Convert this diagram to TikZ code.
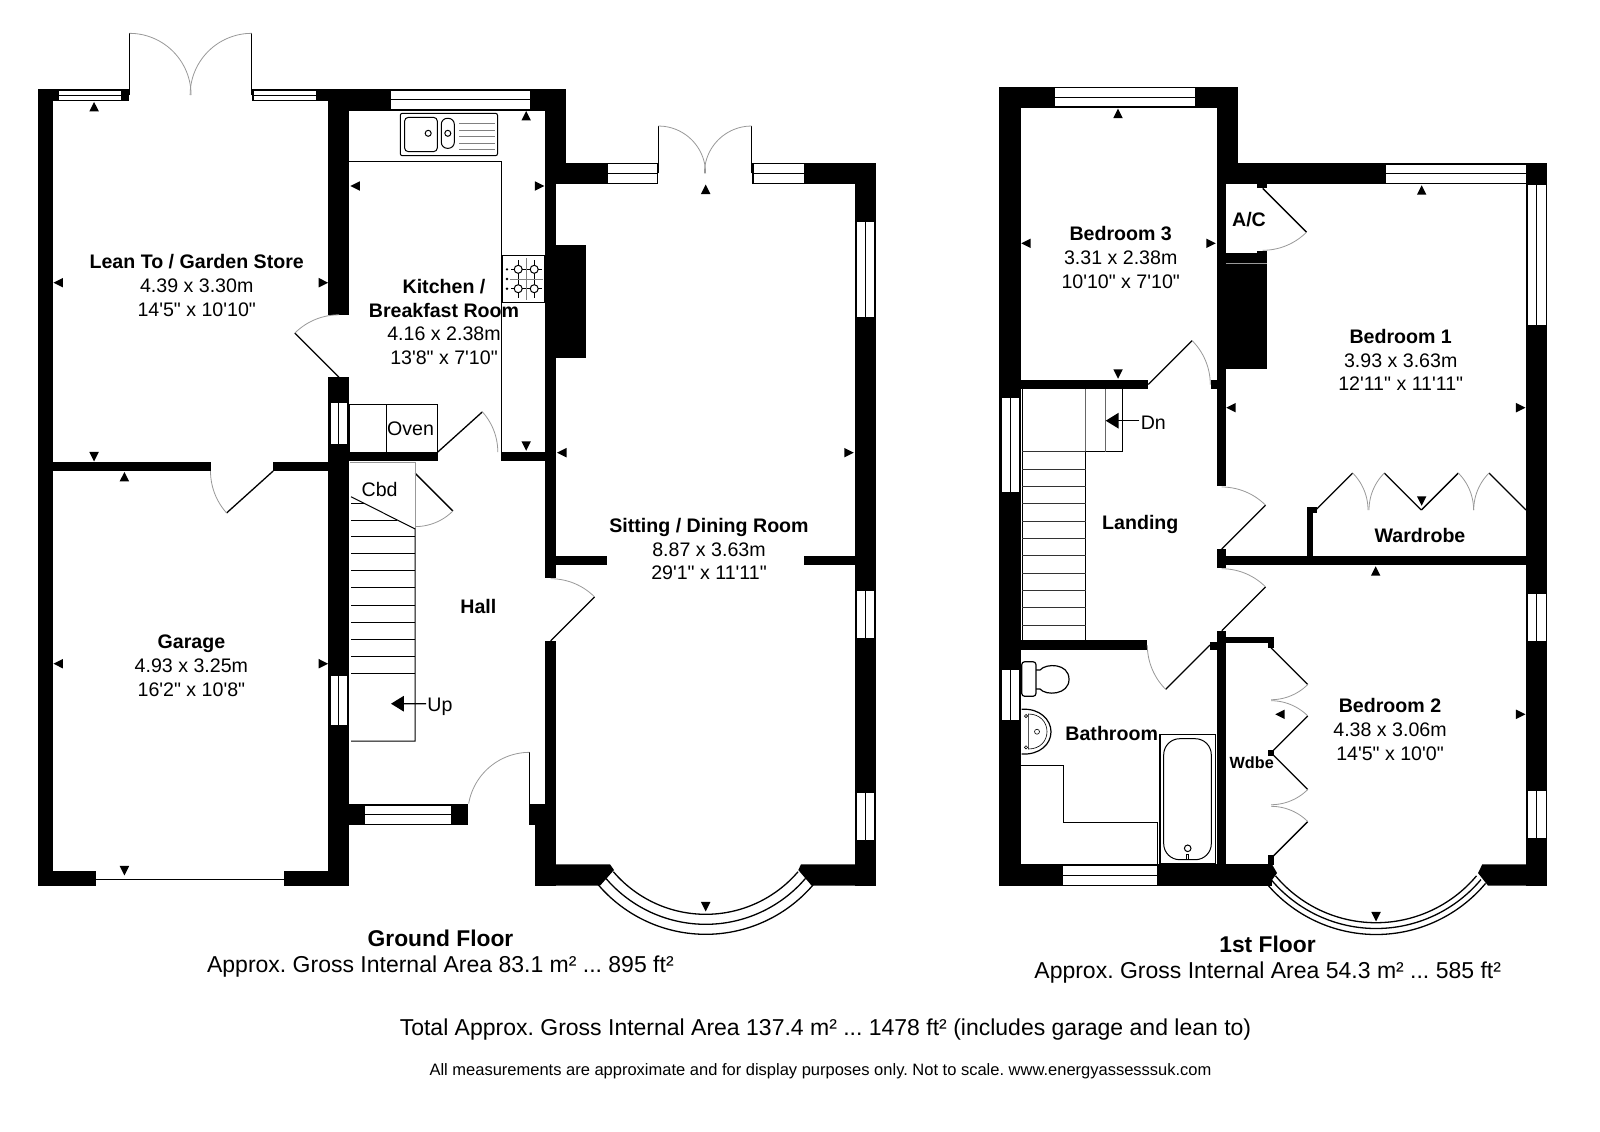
\documentclass[tikz,border=0pt]{standalone}
\usepackage{fontspec}
\usepackage{tikz}
\usetikzlibrary{arrows.meta}
\newfontfamily\plansans{Liberation Sans}
\begin{document}
\begin{tikzpicture}[x=0.5pt,y=-0.5pt]
\tikzstyle{every node}=[inner sep=0pt,align=center,font=\plansans\frenchspacing\fontsize{9.8}{11.9}\selectfont];
\tikzstyle{wall}=[fill=black];
\tikzstyle{pane}=[draw=black,fill=white,line width=0.45pt];
\tikzstyle{leaf}=[draw=black,line width=0.65pt];
\tikzstyle{swing}=[draw=black!40,line width=0.4pt];
\tikzstyle{fitting}=[draw=black,line width=0.5pt];
\tikzstyle{roomname}=[font=\plansans\frenchspacing\bfseries\fontsize{9.8}{11.9}\selectfont];
\tikzstyle{floorname}=[font=\plansans\frenchspacing\bfseries\fontsize{11.4}{14}\selectfont];
\tikzstyle{areatext}=[font=\plansans\frenchspacing\fontsize{11.5}{14}\selectfont];
\tikzstyle{stairarrow}=[draw=black,line width=0.7pt,-{Triangle[length=6.4pt,width=7.7pt]}];
\useasboundingbox (0,0) rectangle (1600,1131);
\fill[white] (0,0) rectangle (1600,1131);
% walls
\foreach \xa/\ya/\xb/\yb in {
38.3/89.3/52.8/885.7, 38.3/89.3/129.4/101, 251.8/89.3/566.4/101, 349.4/89.3/566.4/110.7,
328.4/89.3/349.4/314.7, 328.4/377.3/349.4/885.7, 52.8/461.7/210.5/471.3, 273.2/461.7/328.4/471.3,
38.3/871.3/96.4/885.7, 284/871.3/349.4/885.7, 349.4/452/437.8/461.3, 500.6/452/545.3/461.3,
545.3/89.3/566.4/184, 545.3/162.7/658.3/184, 751.7/162.7/875.7/184, 545.3/162/556/578.3,
556/245.3/586.3/358.3, 556/555.7/607/565, 804/555.7/854.7/565, 854.7/162.7/875.7/885.7,
545.3/640.7/556/885.7, 349.4/804/467.7/825.3, 529/804/545.3/825.3, 535/825/556/885.7,
999.3/86.7/1020.7/885.7, 999.3/86.7/1237.7/107.7, 1216.7/86.7/1237.7/183.7, 1216.7/163.3/1546.7/183.7,
1216.7/107/1226/486, 1226/253.3/1267/368.7, 1257.3/250.7/1266.7/254, 1257.3/183.7/1266.7/188.3,
1020.7/379.7/1148.3/389.3, 1210.7/379.7/1216.7/389.3, 1216.7/549/1226/568.3, 1226/555.7/1546.7/565,
1307/506.7/1312.7/555.7, 1307/506.7/1316.7/513.3, 1216.7/630.7/1226/885.7, 1210/641.7/1226/650,
1226/637.3/1274.3/643.3, 1267.7/637.3/1274.3/648.3, 1020.7/640/1147.3/650, 1526/163.3/1546.7/885.7,
999.3/864.3/1272/885.7, 1268/750/1274/756, 1268/855/1274/865}
  \fill[wall] (\xa,\ya) rectangle (\xb,\yb);
\fill[wall] (535,864.3) -- (610,864.3) -- (614,870) -- (600,885.7) -- (535,885.7) -- cycle;
\fill[wall] (801,864.3) -- (798.3,870) -- (811.7,885.7) -- (875.7,885.7) -- (875.7,864.3) -- cycle;
\fill[wall] (1482.3,864.3) -- (1546.7,864.3) -- (1546.7,885.7) -- (1488,885.7) -- (1478,873) -- cycle;
\fill[wall] (1260,864.3) -- (1272,864.3) -- (1277,873) -- (1268,885.7) -- (1260,885.7) -- cycle;
\draw[black!40,line width=0.3pt] (1226,263) -- (1267,263);
% windows
\foreach \xa/\ya/\xb/\yb in {
58/90/121.7/100, 253.7/90/316.9/100, 390.4/90/530/109.3, 607/163.5/657.7/183, 753.3/163.5/804/183,
364/805/451.2/824, 1054.3/87.7/1195.3/106.7, 1385/164/1526/183, 1062.7/865/1157/885} {
  \draw[pane] (\xa,\ya) rectangle (\xb,\yb);
  \draw[pane] (\xa,{(\ya+\yb)/2}) -- (\xb,{(\ya+\yb)/2});
}
\foreach \xa/\ya/\xb/\yb in {
330/402/347.5/444, 330/675.3/347.5/725.7, 856/221.3/874.7/317, 856/590/874.7/638, 856/792.3/874.7/840.3,
1001/397.3/1019.3/492.7, 1001/669.3/1019.3/720, 1527/184/1546/325, 1527/593.3/1546/641, 1527/790.3/1546/838.7} {
  \draw[pane] (\xa,\ya) rectangle (\xb,\yb);
  \draw[pane] ({(\xa+\xb)/2},\ya) -- ({(\xa+\xb)/2},\yb);
}
\draw[leaf] (96.4,879.3) -- (284,879.3);
% bays
\foreach \cx/\cy/\rad/\ang in {705.7/792.9/121.4/49.5, 705.7/792.9/131.4/49.5, 705.7/792.9/141.4/49.5,
1376/791.5/131.2/50, 1376/791.5/137/50, 1376/791.5/143/50}
  \draw[leaf] plot[domain=-\ang:\ang,samples=41,smooth] ({\cx+\rad*sin(\x)},{\cy+\rad*cos(\x)});
% doors: hinge, radius, leaf angle, end of swing
\foreach \hx/\hy/\rad/\pa/\pb in {
129.4/95/61.7/270/360, 251.8/95/61.7/270/180, 658.3/173.3/47.3/270/360, 751.7/173.3/47.3/270/180,
339/377.3/62.5/225/270, 273.2/471/62.7/138/180, 437.8/452/60/318/360, 415.2/473.3/53.3/45/90,
529.7/814.3/62/270/190, 550.7/640.7/62/315/270,
1148.3/384.5/62/315/360, 1262.7/188.3/62/45/90, 1221.7/549/62/315/270, 1221.7/630.7/62/315/270,
1210/645/62.7/135/180, 1315.7/510/52.3/315/360, 1421.3/510/52.3/225/180, 1421.3/510/52.3/315/360,
1526/510/52.3/225/180, 1271/647.7/52/45/90, 1271/752.7/52/315/270, 1271/752.7/52/45/90, 1271/858.3/52/315/270} {
  \draw[leaf] (\hx,\hy) -- ++(\pa:\rad);
  \draw[swing] plot[domain=\pa:\pb,samples=15,smooth] ({\hx+\rad*cos(\x)},{\hy+\rad*sin(\x)});
}
% kitchen
\draw[fitting] (349.4,161.7) -- (501.7,161.7) -- (501.7,451.7);
\draw[fitting,rounded corners=1pt] (400.3,113.3) rectangle (497.5,155.7);
\draw[fitting,rounded corners=2pt] (404.5,117.3) rectangle (437.4,151.7);
\draw[fitting,rounded corners=3pt] (441.3,118.3) rectangle (454.3,148.3);
\draw[fitting] (428.2,133.3) circle[radius=3];
\draw[fitting] (447.8,133.3) circle[radius=3];
\foreach \ya in {123.6,130,136.6,143,149}
  \draw[black!50,line width=0.4pt] (459,\ya) -- (494.5,\ya);
\draw[fitting] (502.5,255.7) rectangle (544,302.7);
\foreach \xa in {518.2,534.2} {
  \draw[fitting,line width=0.3pt] (\xa,260) -- (\xa,298);
  \foreach \ya in {269.3,288.7} \draw[fitting,fill=white] (\xa,\ya) circle[radius=4];
}
\foreach \ya in {269.3,288.7} \draw[fitting,line width=0.3pt] (511,\ya) -- (514,\ya) (522,\ya) -- (530,\ya) (538,\ya) -- (542,\ya);
\draw[black!50,line width=0.4pt] (526,258) -- (526,300) (510,279) -- (543,279);
\foreach \ya in {269.3,279,288.7} \fill (507,\ya) circle[radius=1.3];
\draw[fitting] (349.4,404) rectangle (437.4,452);
\draw[fitting] (386.1,404) -- (386.1,452);
% ground floor stairs
\draw[swing] (350.2,462.7) -- (415.2,462.7) -- (415.2,529);
\draw[fitting] (351,496.7) -- (415.2,529) -- (415.2,741) -- (351,741);
\draw[fitting] (351,503.3) -- (364,503.3);
\draw[fitting] (351,520) -- (397,520);
\foreach \ya in {536.7,553.7,570.7,587.7,605,622.3,639.3,656.7,673.7}
  \draw[fitting] (351,\ya) -- (415.2,\ya);
% first floor stairs
\draw[fitting] (1022,389.3) -- (1022,640) (1085.7,451.7) -- (1085.7,640);
\draw[fitting] (1085.7,451.7) -- (1122.7,451.7) -- (1122.7,389.3);
\draw[black!60,line width=0.45pt] (1085.7,389.3) -- (1085.7,451.7) (1105,389.3) -- (1105,451.7);
\foreach \ya in {451.7,469,486.3,503.7,521,538.7,555.7,573,590.3,607.7,625}
  \draw[black!80,line width=0.5pt] (1022,\ya) -- (1085.7,\ya);
% bathroom
\draw[fitting,line width=0.6pt,rounded corners=1.5pt] (1021.7,661.7) rectangle (1036,696.3);
\draw[fitting,line width=0.6pt] (1036,670) -- (1040,670) .. controls (1046,663) and (1069,663) .. (1069,679.3) .. controls (1069,695) and (1046,696) .. (1040,689) -- (1036,689);
\draw[fitting,line width=0.6pt] (1021.7,709.3) .. controls (1040,708) and (1051,720) .. (1051,731.7) .. controls (1051,744) and (1040,755) .. (1021.7,754);
\draw[fitting,line width=0.3pt] (1028.3,714) .. controls (1040,714) and (1047,722) .. (1047,731.7) .. controls (1047,741) and (1040,749) .. (1028.3,749) -- cycle;
\draw[fitting,line width=0.3pt] (1037,731.7) circle[radius=2.5] (1026,716) circle[radius=1.6] (1026,747.3) circle[radius=1.6];
\draw[fitting] (1020.7,765.3) -- (1063,765.3) -- (1063,822.3) -- (1157.7,822.3) -- (1157.7,864.3);
\draw[fitting,line width=0.6pt] (1160,734.3) rectangle (1215.7,863.7);
\draw[fitting,rounded corners=8pt] (1163.7,738.7) rectangle (1211.3,859.7);
\draw[fitting] (1187.7,848.3) circle[radius=3.3];
\draw[fitting,line width=0.3pt] (1186.7,854.5) rectangle (1188.7,859.7);
% height and width marks: place, pointing angle
\foreach \xa/\ya/\ang in {
94.1/106.7/270, 58.2/282.7/180, 323.4/282.7/0, 94.1/456.7/90, 124.4/476.7/270, 58.2/663.7/180, 323.4/663.7/0, 124.4/870.7/90,
526.2/115.7/270, 355.1/186/180, 539.6/186/0, 526.2/446/90, 561.8/452.7/180, 849/452.7/0, 705.7/189.3/270, 705.7/906.7/90,
1118/113.3/270, 1026/243.3/180, 1211/243.3/0, 1118/374/90, 1231/407.7/180, 1520.7/407.7/0, 1421.7/190/270, 1421.7/501/90,
1375.7/571/270, 1280/714.3/180, 1520.7/714.3/0, 1376/916.7/90}
  \fill (\xa,\ya) ++(\ang:4.75) -- ++(\ang+153.4:10.6) -- ++(\ang-90:9.5) -- cycle;
% labels
\node[roomname] (leanto) at (196.7,285.3) {Lean To / Garden Store\\\mdseries 4.39 x 3.30m\\\mdseries 14'5" x 10'10"};
\node[roomname] (kitchen) at (444,322) {Kitchen /\\Breakfast Room\\\mdseries 4.16 x 2.38m\\\mdseries 13'8" x 7'10"};
\node[roomname] (sitting) at (709,549) {Sitting / Dining Room\\\mdseries 8.87 x 3.63m\\\mdseries 29'1" x 11'11"};
\node[roomname] (garage) at (191.4,666) {Garage\\\mdseries 4.93 x 3.25m\\\mdseries 16'2" x 10'8"};
\node[roomname] (hall) at (478.4,606) {Hall};
\node (oven) at (410.6,429) {Oven};
\node (cbd) at (379.6,489.3) {Cbd};
\node (up) at (440,706.5) {Up};
\coordinate (uptip) at (391,703.7);
\draw[stairarrow] (up.west) ++(-1,-2.8) -- (uptip);
\node[roomname] (bed3) at (1120.7,257.7) {Bedroom 3\\\mdseries 3.31 x 2.38m\\\mdseries 10'10" x 7'10"};
\node[roomname] (bed1) at (1400.7,360) {Bedroom 1\\\mdseries 3.93 x 3.63m\\\mdseries 12'11" x 11'11"};
\node[roomname] (bed2) at (1390,729.5) {Bedroom 2\\\mdseries 4.38 x 3.06m\\\mdseries 14'5" x 10'0"};
\node[roomname] (airing) at (1249,220) {A/C};
\node[roomname] (wardrobe) at (1420,535) {Wardrobe};
\node[roomname] (landing) at (1140.3,524.3) {Landing};
\node[roomname] (bathroom) at (1111.7,733) {Bathroom};
\node[roomname,font=\plansans\bfseries\fontsize{8.1}{10}\selectfont] (wdbe) at (1251.7,762.7) {Wdbe};
\node (dn) at (1153.3,422.3) {Dn};
\coordinate (dntip) at (1105.7,420.7);
\draw[stairarrow] (dn.west) ++(-1,-1.6) -- (dntip);
\node[floorname] (ground) at (440.5,938) {Ground Floor};
\node[areatext] (groundarea) at (440.4,966.7) {Approx. Gross Internal Area 83.1 m² ... 895 ft²};
\node[floorname] (first) at (1267.5,944.3) {1st Floor};
\node[areatext] (firstarea) at (1267.7,973) {Approx. Gross Internal Area 54.3 m² ... 585 ft²};
\node[areatext] (total) at (825.5,1029.3) {Total Approx. Gross Internal Area 137.4 m² ... 1478 ft² (includes garage and lean to)};
\node[font=\plansans\frenchspacing\fontsize{8.25}{10}\selectfont] (note) at (820.5,1071.7) {All measurements are approximate and for display purposes only. Not to scale. www.energyassesssuk.com};
\end{tikzpicture}
\end{document}
